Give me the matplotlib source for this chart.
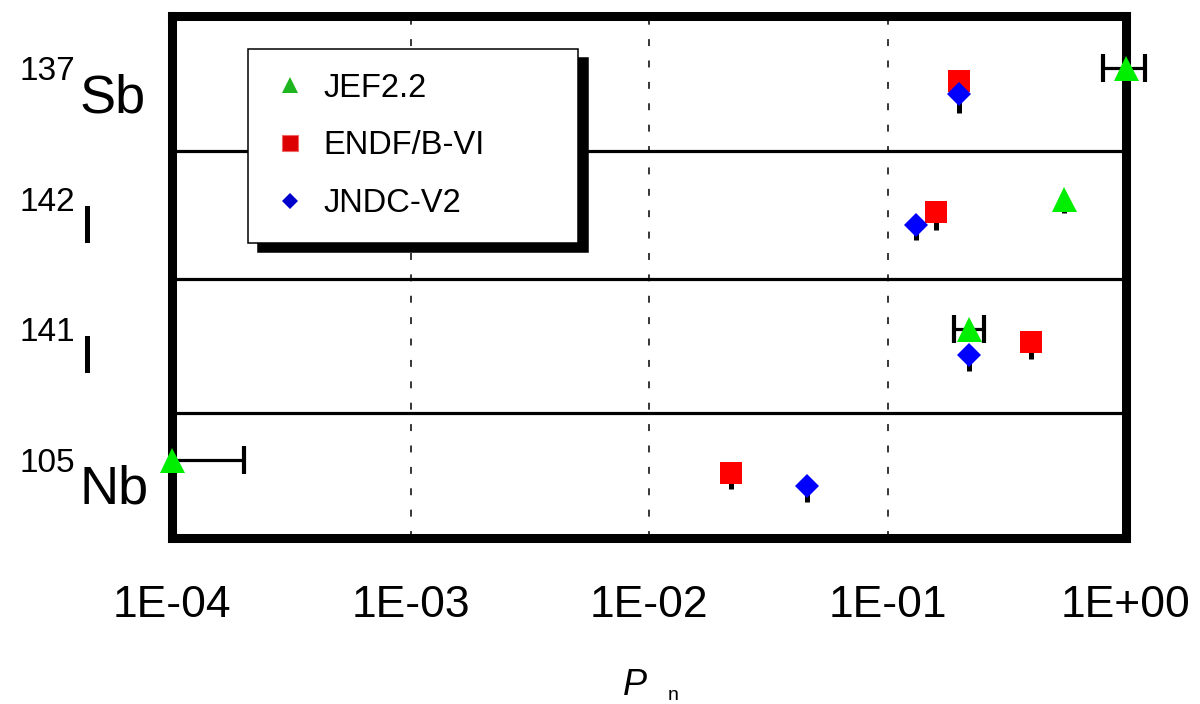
import numpy as np
import matplotlib
matplotlib.use('Agg')
import matplotlib.pyplot as plt
from matplotlib.lines import Line2D
from matplotlib.ticker import NullLocator

plt.rcParams['font.family'] = ['Liberation Sans', 'DejaVu Sans']
plt.rcParams['lines.scale_dashes'] = False

# rows from bottom to top
masses = ['105', '141', '142', '137']
elements = ['Nb', 'I', 'I', 'Sb']
libs = ['JEF2.2', 'ENDF/B-VI', 'JNDC-V2']

# Pn values
jef_pn = [1.0e-4, 0.22, 0.55, 1.0]
endf_pn = [0.022, 0.40, 0.16, 0.20]
jndc_pn = [0.046, 0.22, 0.132, 0.20]
jef_err_lo = [0.0, 0.03, 0.0, 0.2]
jef_err_hi = [1.0e-4, 0.035, 0.0, 0.2]
# short lower bars under the markers
jef_stub = [0.0, 0.0, 0.113, 0.0]
endf_stub = [0.123, 0.13, 0.143, 0.14]
jndc_stub = [0.123, 0.118, 0.113, 0.141]

tick_vals = [1e-4, 1e-3, 1e-2, 1e-1, 1.0]
tick_labels = ['1E-04', '1E-03', '1E-02', '1E-01', '1E+00']
row_edges = [0.956, 1.984, 2.966]

fig = plt.figure(figsize=(12, 7.04), dpi=100)
ax = fig.add_axes([172 / 1200, 1 - 538 / 704, 954 / 1200, 522 / 704])
ax.set_xscale('log')
ax.set_xlim(1e-4, 1.0)
ax.set_ylim(0, 4)

rows = np.arange(len(masses))
series = [
    (jef_pn, jef_stub, 0.6, '^', '#00ee00', 18),
    (endf_pn, endf_stub, 0.5, 's', '#ff0000', 15.8),
    (jndc_pn, jndc_stub, 0.4, 'D', '#0000ff', 12.2),
]
for pn, stub, off, m, c, ms in series:
    y = rows + off
    keep = [i for i in range(len(pn)) if stub[i] > 0]
    if keep:
        ax.errorbar([pn[i] for i in keep], [y[i] for i in keep],
                    yerr=[[stub[i] for i in keep], [0] * len(keep)],
                    fmt='none', ecolor='black', elinewidth=3.6, zorder=8,
                    clip_on=False)
    ax.plot(pn, y, ls='none', marker=m, ms=ms, color=c, mew=0,
            zorder=10, clip_on=False)

# horizontal error bars on JEF2.2
ey = rows + 0.6
keep = [i for i in range(len(jef_pn)) if jef_err_hi[i] > 0]
eb = ax.errorbar([jef_pn[i] for i in keep], [ey[i] for i in keep],
                 xerr=[[jef_err_lo[i] for i in keep], [jef_err_hi[i] for i in keep]],
                 fmt='none', ecolor='black', elinewidth=2.3, capsize=10,
                 capthick=3, zorder=9)
for art in eb.lines[1] + eb.lines[2]:
    art.set_clip_on(False)

for xv in tick_vals[1:-1]:
    ax.axvline(xv, color='black', lw=1.1, ls=(0, (5.0, 10.4)), zorder=1)
for e in row_edges:
    ax.axhline(e, color='black', lw=2.3, zorder=2)

for s in ax.spines.values():
    s.set_linewidth(6.5)

ax.set_xticks(tick_vals, tick_labels)
ax.xaxis.set_minor_locator(NullLocator())
ax.tick_params(axis='x', length=0, pad=34, labelsize=32)
ax.set_yticks([])

# row labels
trans = ax.get_yaxis_transform()
for r in rows:
    ax.annotate(masses[r], xy=(0, r + 0.5), xycoords=trans,
                xytext=(-110, 0.7), textcoords='offset points',
                fontsize=24, ha='left', va='baseline', annotation_clip=False)
    ax.annotate(elements[r], xy=(0, r + 0.5), xycoords=trans,
                xytext=(-66.5, -22.3), textcoords='offset points',
                fontsize=39, ha='left', va='baseline', annotation_clip=False)

# x label P_n
fig.text(623 / 1200, 1 - 695 / 704, 'P', fontsize=26, style='italic',
         ha='left', va='baseline')
fig.text(668 / 1200, 0.0, 'n', fontsize=14, ha='left', va='bottom')

handles = [
    Line2D([], [], ls='none', marker='^', ms=11.5, color='#1fb51f', mew=0),
    Line2D([], [], ls='none', marker='s', ms=12, color='#dd0000',
           mec='#ee6666', mew=0.8),
    Line2D([], [], ls='none', marker='D', ms=8.5, color='#0000cc', mew=0),
]
leg = ax.legend(handles, libs, loc='upper left',
                bbox_to_anchor=(76 / 954, 0, 330 / 954, 489 / 522),
                mode='expand', borderaxespad=0, fontsize=23.5,
                labelspacing=0.82, borderpad=0.725, handlelength=1.13,
                handletextpad=0.45, fancybox=False,
                shadow={'ox': 7.2, 'oy': -6.5, 'color': 'black', 'alpha': 1})
leg.get_frame().set_edgecolor('black')
leg.get_frame().set_linewidth(1.1)
leg.set_zorder(6)

fig.savefig('out.png', dpi=100)
